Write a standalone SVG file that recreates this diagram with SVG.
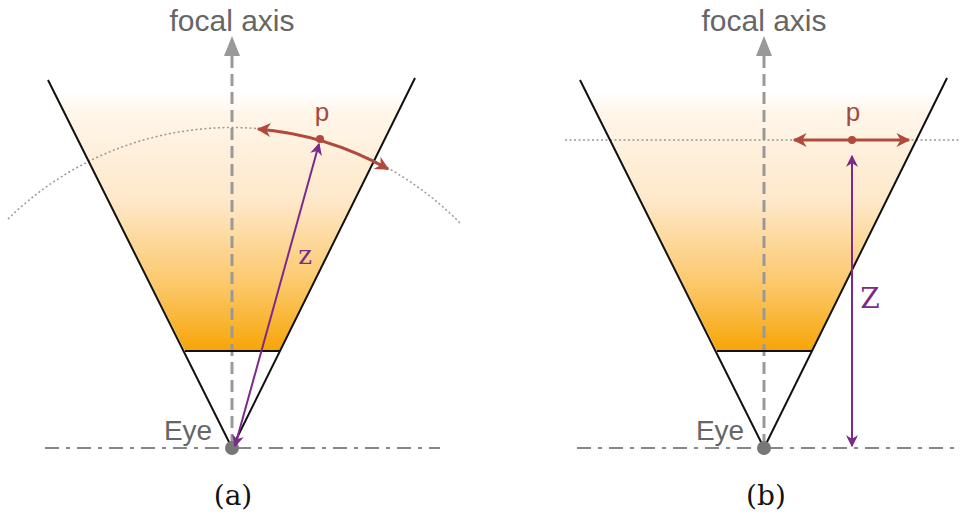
<svg xmlns="http://www.w3.org/2000/svg" width="963" height="515" viewBox="0 0 963 515">
<defs>
<linearGradient id="gA" gradientUnits="userSpaceOnUse" x1="0" y1="92" x2="0" y2="351">
<stop offset="0" stop-color="#ffffff"/>
<stop offset="0.08" stop-color="#fff6ea"/>
<stop offset="0.42" stop-color="#fee8c9"/>
<stop offset="0.76" stop-color="#fcc665"/>
<stop offset="1" stop-color="#f7a505"/>
</linearGradient>
<marker id="mPur2" viewBox="0 0 10 10" refX="9" refY="5" markerWidth="14" markerHeight="12" markerUnits="userSpaceOnUse" orient="auto-start-reverse"><path d="M0,0 L10,5 L0,10 L3,5 z" fill="#7b2a8a"/></marker>
<marker id="mRed" viewBox="0 0 10 10" refX="9" refY="5" markerWidth="24" markerHeight="14" markerUnits="userSpaceOnUse" orient="auto-start-reverse"><path d="M0,0 L10,5 L0,10 L3,5 z" fill="#b04a3c"/></marker>
</defs>
<style>
.cone{fill:url(#gA);stroke:none}
.edge{stroke:#111;stroke-width:2;fill:none}
.axis{stroke:#999;stroke-width:3;stroke-dasharray:12 6;fill:none}
.base{stroke:#888;stroke-width:2;stroke-dasharray:14 7 4 7;fill:none}
.dot{stroke:#999;stroke-width:1.5;stroke-dasharray:2 2.5;fill:none}
.red{stroke:#b04a3c;stroke-width:3;fill:none}
.pur{stroke:#7b2a8a;stroke-width:2;fill:none}
.lbl{font-family:"Liberation Sans",Arial,sans-serif;fill:#666}
.plbl{font-family:"Liberation Sans",Arial,sans-serif;fill:#a24a3e}
.ser{font-family:"DejaVu Serif","Liberation Serif",serif}
</style>
<g id="panelA">
<polygon class="cone" points="54,92 409,90 280,351 185,351"/>
<path class="dot" d="M8,219 A320,320 0 0 1 460,223"/>
<line class="base" x1="45" y1="448" x2="440" y2="448"/>
<line class="axis" x1="232" y1="446" x2="232" y2="50"/>
<path d="M232,36 L240,56 L224,56 z" fill="#999"/>
<path class="edge" d="M48,80 L232,448 L415,78"/>
<line class="edge" x1="185" y1="351" x2="280" y2="351"/>
<circle cx="232" cy="448" r="7" fill="#777"/>
<text class="lbl" x="232" y="31" font-size="30" text-anchor="middle">focal axis</text>
<text class="lbl" x="188" y="440" font-size="28" text-anchor="middle">Eye</text>
<path class="red" d="M258,129 A320,320 0 0 1 388,169" marker-start="url(#mRed)" marker-end="url(#mRed)"/>
<line class="pur" x1="319" y1="144" x2="235" y2="446" marker-start="url(#mPur2)" marker-end="url(#mPur2)"/>
<circle cx="320" cy="139" r="4" fill="#b04a3c"/>
<text class="plbl" x="322" y="121" font-size="26" text-anchor="middle">p</text>
<text x="305" y="264" font-size="26" text-anchor="middle" class="ser" fill="#7b2a8a">z</text>
<text x="233" y="505" font-size="28" text-anchor="middle" class="ser" fill="#111">(a)</text>
</g>
<g id="panelB">
<polygon class="cone" points="586,92 941,90 812,351 717,351"/>
<line class="dot" x1="565" y1="140" x2="960" y2="140"/>
<line class="base" x1="577" y1="448" x2="960" y2="448"/>
<line class="axis" x1="764" y1="446" x2="764" y2="50"/>
<path d="M764,36 L772,56 L756,56 z" fill="#999"/>
<path class="edge" d="M580,80 L764,448 L947,78"/>
<line class="edge" x1="717" y1="351" x2="812" y2="351"/>
<circle cx="764" cy="448" r="7" fill="#777"/>
<text class="lbl" x="764" y="31" font-size="30" text-anchor="middle">focal axis</text>
<text class="lbl" x="720" y="440" font-size="28" text-anchor="middle">Eye</text>
<line class="red" x1="794" y1="140" x2="909" y2="140" marker-start="url(#mRed)" marker-end="url(#mRed)"/>
<line class="pur" x1="852" y1="156" x2="852" y2="446" marker-start="url(#mPur2)" marker-end="url(#mPur2)"/>
<circle cx="852" cy="140" r="4" fill="#b04a3c"/>
<text class="plbl" x="853" y="121" font-size="26" text-anchor="middle">p</text>
<text x="870" y="308" font-size="28" text-anchor="middle" class="ser" fill="#7b2a8a">Z</text>
<text x="766" y="505" font-size="28" text-anchor="middle" class="ser" fill="#111">(b)</text>
</g>
</svg>
